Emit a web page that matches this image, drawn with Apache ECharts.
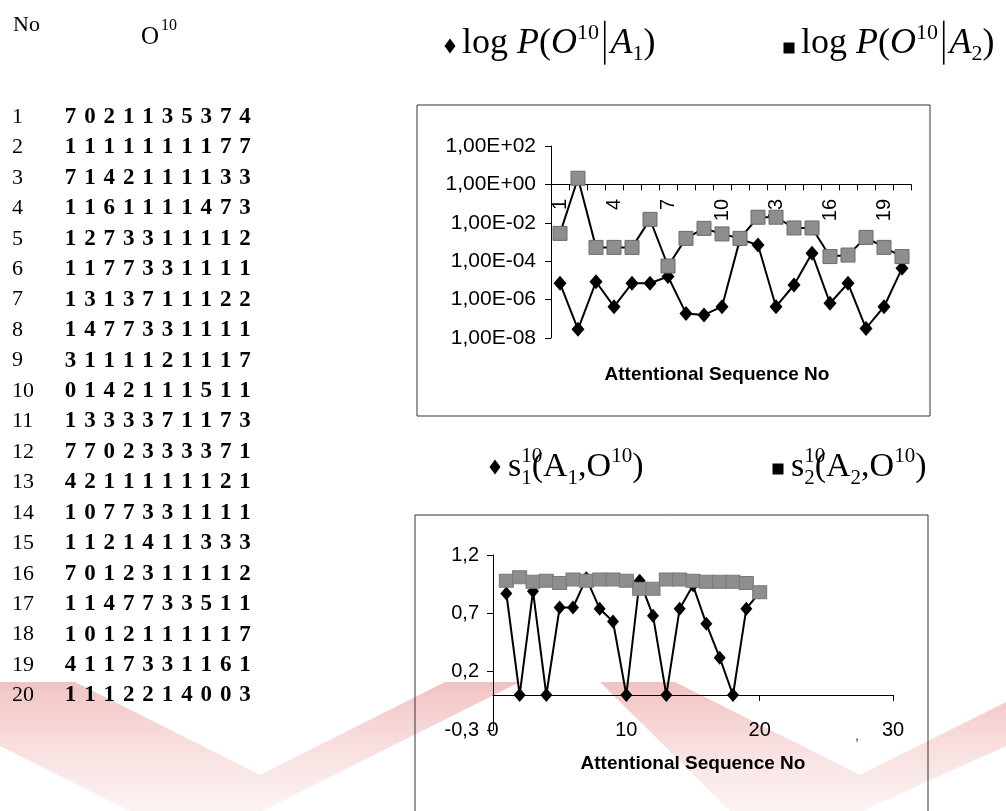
<!DOCTYPE html>
<html><head><meta charset="utf-8">
<script src="https://cdn.jsdelivr.net/npm/echarts@6/dist/echarts.min.js"></script>
<style>html,body{margin:0;padding:0;background:#fff}#c{width:1006px;height:811px}</style>
</head><body><div id="c"></div>
<script>
// ---------------- data ----------------
const seqNo = [1,2,3,4,5,6,7,8,9,10,11,12,13,14,15,16,17,18,19,20];
const obsSeqs = ['7021135374','1111111177','7142111133','1161111473','1273311112',
  '1177331111','1313711122','1477331111','3111121117','0142111511',
  '1333371173','7702333371','4211111121','1077331111','1121411333',
  '7012311112','1147733511','1012111117','4117331161','1112214003'];
const catLabels = ['1','2','3','4','5','6','7','8','9','10','11','12','13','14','15','16','17','18','19','20'];
// log10 of P(O|A1), P(O|A2)
const log10P_A1 = [-5.15,-7.55,-5.07,-6.37,-5.15,-5.15,-4.8,-6.72,-6.8,-6.37,-2.85,-3.16,-6.37,-5.24,-3.59,-6.19,-5.15,-7.5,-6.37,-4.37];
const log10P_A2 = [-2.55,0.32,-3.28,-3.28,-3.28,-1.82,-4.25,-2.81,-2.29,-2.58,-2.81,-1.71,-1.71,-2.27,-2.27,-3.76,-3.68,-2.76,-3.28,-3.76];
const logTickLabels = ['1,00E-08','1,00E-06','1,00E-04','1,00E-02','1,00E+00','1,00E+02'];
const s1 = [0.87,0,0.89,0,0.75,0.75,1.0,0.74,0.63,0,0.98,0.68,0,0.74,0.94,0.61,0.32,0,0.74,0.88];
const s2 = [0.98,1.01,0.97,0.98,0.96,0.99,0.98,0.99,0.99,0.98,0.91,0.91,0.99,0.99,0.98,0.97,0.97,0.97,0.96,0.88];
const simTickLabels = ['-0,3','0,2','0,7','1,2'];
const xTickLabels = ['0','10','20','30'];
const chartTitle = 'Attentional Sequence No';

// ---------------- helpers ----------------
const SERIF = '"Liberation Serif","Times New Roman",serif';
const SANS = '"Liberation Sans",Arial,sans-serif';
const mctx = document.createElement('canvas').getContext('2d');
function tw(t, font){ mctx.font = font; return mctx.measureText(t).width; }

function eq(x, base, size, parts){
  const els = []; let cx = x;
  parts.forEach(p => {
    if (p.bar){
      els.push({type:'line', z:20, shape:{x1:cx+p.w*size/2, y1:base-size*0.98, x2:cx+p.w*size/2, y2:base+size*0.24},
        style:{stroke:'#000', lineWidth:1.6}});
      cx += p.w*size; return;
    }
    const s = Math.round(size*(p.s||1));
    const font = (p.i?'italic ':'') + s + 'px ' + SERIF;
    const rise = (p.up||0)*size;
    els.push({type:'text', z:20, x:cx, y:base - rise - 0.34*s,
      style:{text:p.t, font:font, fill:'#000', align:'left', verticalAlign:'middle'}});
    if (!p.stay) cx += tw(p.t, font);
  });
  return els;
}
function diamond(cx, cy, w, h){
  return {type:'polygon', z:20, shape:{points:[[cx,cy-h/2],[cx+w/2,cy],[cx,cy+h/2],[cx-w/2,cy]]}, style:{fill:'#000'}};
}
function square(cx, cy, s){
  return {type:'rect', z:20, shape:{x:cx-s/2, y:cy-s/2, width:s, height:s}, style:{fill:'#000'}};
}

const graphics = [];

// watermark (pale red chevrons)
const wmGrad = {type:'linear', x:0, y:0, x2:0, y2:1, colorStops:[{offset:0,color:'rgba(222,110,110,0.42)'},{offset:1,color:'rgba(240,175,175,0.16)'}]};
const wmPolys = [
  [[0,682],[75,682],[260,775],[445,682],[520,682],[262,811],[130,811],[0,746]],
  [[600,682],[675,682],[860,775],[1006,702],[1006,746],[862,811],[730,811]]
];
wmPolys.forEach(pts => graphics.push({type:'polygon', z:0, silent:true, shape:{points:pts}, style:{fill:wmGrad}}));

// table
graphics.push({type:'text', z:20, x:13, y:25, style:{text:'No', font:'22px '+SERIF, fill:'#000', verticalAlign:'middle'}});
graphics.push({type:'text', z:20, x:141, y:37, style:{text:'O', font:'25px '+SERIF, fill:'#000', verticalAlign:'middle'}});
graphics.push({type:'text', z:20, x:161, y:26, style:{text:'10', font:'16px '+SERIF, fill:'#000', verticalAlign:'middle'}});
seqNo.forEach((n, i) => {
  const y = 117 + i*30.45;
  graphics.push({type:'text', z:20, x:12, y:y, style:{text:String(n), font:'22px '+SERIF, fill:'#000', verticalAlign:'middle'}});
  obsSeqs[i].split('').forEach((d, j) => {
    graphics.push({type:'text', z:20, x:70.5 + j*19.4, y:y, style:{text:d, font:'bold 23px '+SERIF, fill:'#000', align:'center', verticalAlign:'middle'}});
  });
});

// legends
graphics.push(diamond(450, 46, 11, 15));
eq(462, 56, 36, [{t:'log '},{t:'P',i:1},{t:'('},{t:'O',i:1},{t:'10',s:0.6,up:0.42},{bar:1,w:0.32},{t:'A',i:1},{t:'1',s:0.6,up:-0.16},{t:')'}]).forEach(e=>graphics.push(e));
graphics.push(square(789, 48, 11));
eq(801, 56, 36, [{t:'log '},{t:'P',i:1},{t:'('},{t:'O',i:1},{t:'10',s:0.6,up:0.42},{bar:1,w:0.32},{t:'A',i:1},{t:'2',s:0.6,up:-0.16},{t:')'}]).forEach(e=>graphics.push(e));

graphics.push(diamond(495, 467, 11, 15));
eq(508, 479, 34, [{t:'s'},{t:'10',s:0.62,up:0.45,stay:1},{t:'1',s:0.62,up:-0.2},{t:'('},{t:'A'},{t:'1',s:0.62,up:-0.2},{t:','},{t:'O'},{t:'10',s:0.62,up:0.45},{t:')'}]).forEach(e=>graphics.push(e));
graphics.push(square(778, 469, 11));
eq(791, 479, 34, [{t:'s'},{t:'10',s:0.62,up:0.45,stay:1},{t:'2',s:0.62,up:-0.2},{t:'('},{t:'A'},{t:'2',s:0.62,up:-0.2},{t:','},{t:'O'},{t:'10',s:0.62,up:0.45},{t:')'}]).forEach(e=>graphics.push(e));

// chart frames
graphics.push({type:'rect', z:1, shape:{x:417, y:105, width:513, height:311}, style:{fill:'none', stroke:'#333', lineWidth:1}});
graphics.push({type:'polyline', z:1, shape:{points:[[415,811],[415,515],[928,515],[928,811]]}, style:{fill:'none', stroke:'#333', lineWidth:1}});

// chart titles
graphics.push({type:'text', z:20, x:717, y:375, style:{text:chartTitle, font:'bold 19px '+SANS, fill:'#000', align:'center', verticalAlign:'middle'}});
graphics.push({type:'text', z:20, x:693, y:764, style:{text:chartTitle, font:'bold 19px '+SANS, fill:'#000', align:'center', verticalAlign:'middle'}});
graphics.push({type:'text', z:20, x:857, y:736, style:{text:',', font:'14px '+SANS, fill:'#333', align:'center', verticalAlign:'middle'}});

// ---------------- chart ----------------
const chart = echarts.init(document.getElementById('c'), null, {renderer:'canvas'});
const axisTxt = {color:'#000', fontFamily:SANS, fontSize:20};
chart.setOption({
  animation:false,
  backgroundColor:'#fff',
  grid:[
    {left:551, top:146, width:360, height:192},
    {left:493, top:555, width:400, height:175},
    {left:551, top:146, width:360, height:41}   // label carrier just below the 1,00E+00 line
  ],
  xAxis:[
    {gridIndex:0, type:'category', data:catLabels, boundaryGap:true,
      axisLine:{onZero:true, lineStyle:{color:'#000', width:1}},
      axisTick:{show:true, interval:0, length:6, lineStyle:{color:'#000'}},
      axisLabel:{show:false}, splitLine:{show:false}},
    {gridIndex:1, type:'value', min:0, max:30, interval:10,
      axisLine:{onZero:true, lineStyle:{color:'#000', width:1}},
      axisTick:{show:true, length:6, lineStyle:{color:'#000'}},
      axisLabel:{show:false}, splitLine:{show:false}},
    {gridIndex:1, type:'value', min:0, max:30, interval:10, position:'bottom',
      axisLine:{show:false, onZero:false}, axisTick:{show:false},
      axisLabel:{margin:-10, formatter:(v,i)=>xTickLabels[i], ...axisTxt}, splitLine:{show:false}},
    {gridIndex:2, type:'category', data:catLabels, boundaryGap:true, position:'bottom',
      axisLine:{show:false, onZero:false}, axisTick:{show:false},
      axisLabel:{interval:2, rotate:90, margin:12, ...axisTxt}, splitLine:{show:false}}
  ],
  yAxis:[
    {gridIndex:0, type:'value', min:-8, max:2, interval:2,
      axisLine:{show:true, lineStyle:{color:'#000', width:1}},
      axisTick:{show:true, length:6, lineStyle:{color:'#000'}},
      axisLabel:{margin:15, formatter:(v,i)=>logTickLabels[i], ...axisTxt, fontSize:21},
      splitLine:{show:false}},
    {gridIndex:1, type:'value', min:-0.3, max:1.2, interval:0.5,
      axisLine:{show:true, lineStyle:{color:'#000', width:1}},
      axisTick:{show:true, length:6, lineStyle:{color:'#000'}},
      axisLabel:{margin:14, formatter:(v,i)=>simTickLabels[i], ...axisTxt},
      splitLine:{show:false}},
    {gridIndex:2, type:'value', show:false, min:0, max:1}
  ],
  series:[
    {name:'log P(O|A1)', type:'line', xAxisIndex:0, yAxisIndex:0, data:log10P_A1, z:3, showAllSymbol:true,
      symbol:'diamond', symbolSize:[13,15], itemStyle:{color:'#000'}, lineStyle:{color:'#000', width:2}},
    {name:'log P(O|A2)', type:'line', xAxisIndex:0, yAxisIndex:0, data:log10P_A2, z:4, showAllSymbol:true,
      symbol:'rect', symbolSize:14, itemStyle:{color:'#8e8e8e', borderColor:'#6a6a6a', borderWidth:1}, lineStyle:{color:'#000', width:2}},
    {name:'s1', type:'line', xAxisIndex:1, yAxisIndex:1, data:s1.map((v,i)=>[i+1,v]), z:3, showAllSymbol:true,
      symbol:'diamond', symbolSize:[12,14], itemStyle:{color:'#000'}, lineStyle:{color:'#000', width:2}},
    {name:'s2', type:'line', xAxisIndex:1, yAxisIndex:1, data:s2.map((v,i)=>[i+1,v]), z:4, showAllSymbol:true,
      symbol:'rect', symbolSize:[14,13], itemStyle:{color:'#8e8e8e', borderColor:'#7a7a7a', borderWidth:1}, lineStyle:{color:'#333', width:1}}
  ],
  graphic:graphics
});
</script></body></html>
